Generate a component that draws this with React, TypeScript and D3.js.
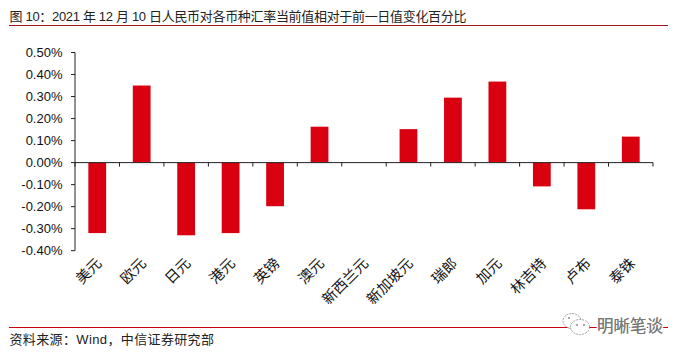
import React from "react";
import * as d3 from "d3";

const categories = ["美元","欧元","日元","港元","英镑","澳元","新西兰元","新加坡元","瑞郎","加元","林吉特","卢布","泰铢"];
const values = [-0.32,0.35,-0.33,-0.32,-0.198,0.163,0,0.152,0.295,0.368,-0.108,-0.212,0.118];
const yTicks = [0.5,0.4,0.3,0.2,0.1,0,-0.1,-0.2,-0.3,-0.4];
const title = "图 10：2021 年 12 月 10 日人民币对各币种汇率当前值相对于前一日值变化百分比";
const source = "资料来源：Wind，中信证券研究部";
const watermark = "明晰笔谈";

const FONT = "'Liberation Sans','Noto Sans CJK SC',sans-serif";

export default function App() {
  const x = d3.scaleBand<string>().domain(categories).range([75, 653]).paddingInner(0.6).paddingOuter(0.3);
  const y = d3.scaleLinear().domain([-0.4, 0.5]).range([250.7, 52.5]);
  const step = x.step();
  const tickXs = d3.range(categories.length + 1).map(i => 75 + i * step);
  return (
    <svg width={685} height={355} style={{ position: "absolute", left: 0, top: 0, background: "#fff" }} fontFamily={FONT}>
      <text x={9.5} y={21} fontSize={13} fill="#222" textLength={457} lengthAdjust="spacing">{title}</text>
      <line x1={9} x2={668} y1={25.5} y2={25.5} stroke="#a5131c" strokeWidth={1} />

      {categories.map((c, i) => (
        <rect key={c} x={x(c)} width={x.bandwidth()}
          y={Math.min(y(values[i]), y(0))} height={Math.abs(y(values[i]) - y(0))} fill="#d9000f" />
      ))}

      <line x1={75} x2={75} y1={y(0.5)} y2={y(-0.4)} stroke="#222" strokeWidth={1} />
      {yTicks.map(t => (
        <g key={t}>
          <line x1={71} x2={75} y1={y(t)} y2={y(t)} stroke="#222" />
          <text x={62.5} y={y(t) + 4.6} textAnchor="end" fontSize={13} fill="#111">{t.toFixed(2)}%</text>
        </g>
      ))}
      <line x1={75} x2={tickXs[tickXs.length - 1]} y1={y(0)} y2={y(0)} stroke="#222" />
      {tickXs.map(t => (
        <line key={t} x1={t} x2={t} y1={y(0)} y2={y(0) + 4} stroke="#222" />
      ))}
      {categories.map(c => {
        const cx = x(c)! + x.bandwidth() / 2 - 2;
        return (
          <text key={c} transform={`translate(${cx},257) rotate(-45)`} textAnchor="end" fontSize={14.5} fill="#111" dominantBaseline="hanging">{c}</text>
        );
      })}

      <line x1={9} x2={668} y1={327.5} y2={327.5} stroke="#c8000a" strokeWidth={1} />
      <text x={9.5} y={344} fontSize={13} fill="#222" textLength={204.5} lengthAdjust="spacing">{source}</text>

      <g fill="#fff" stroke="#777" strokeWidth={0.7} strokeDasharray="2 1">
        <ellipse cx={572} cy={321} rx={9} ry={7.5} />
        <ellipse cx={580} cy={327} rx={9.5} ry={7.5} />
      </g>
      <g fill="#888">
        <circle cx={577} cy={325} r={1} />
        <circle cx={584} cy={325} r={1} />
        <circle cx={569} cy={318} r={1} />
      </g>
      <text x={597} y={332} fontSize={16.5} fill="#999" stroke="#fff" strokeWidth={3} paintOrder="stroke">{watermark}</text>
      <text x={597} y={332} fontSize={16.5} fill="#777">{watermark}</text>
    </svg>
  );
}
